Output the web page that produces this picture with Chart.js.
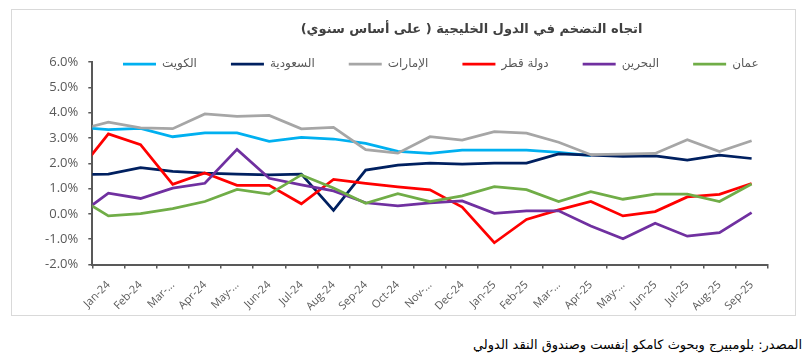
<!DOCTYPE html>
<html>
<head>
<meta charset="utf-8">
<script src="https://cdn.jsdelivr.net/npm/chart.js@4.4.1/dist/chart.umd.min.js"></script>
<style>
  html, body { margin: 0; padding: 0; background: #ffffff; width: 809px; height: 356px; overflow: hidden; }
  #box { position: absolute; left: 11px; top: 9px; width: 785px; height: 307px; border: 1px solid #d9d9d9; box-sizing: border-box; }
  #chart { position: absolute; left: 12px; top: 10px; }
  #source { position: absolute; right: 7px; top: 337px; font-family: "DejaVu Sans", sans-serif; font-size: 13px; color: #000; direction: rtl; white-space: nowrap; }
</style>
</head>
<body>
<div id="box"></div>
<canvas id="chart" width="783" height="305"></canvas>
<div id="source">المصدر: بلومبيرج وبحوث كامكو إنفست وصندوق النقد الدولي</div>
<script>
// Month labels shown on the axis (Jan-24 .. Sep-25)
const categories = ['Jan-24','Feb-24','Mar-...','Apr-24','May-...','Jun-24','Jul-24','Aug-24','Sep-24','Oct-24','Nov-...','Dec-24',
                    'Jan-25','Feb-25','Mar-...','Apr-25','May-...','Jun-25','Jul-25','Aug-25','Sep-25'];
// Each series starts with the preceding month (Dec-23), which lies just outside the axis
const kuwait  = [3.43, 3.33, 3.38, 3.05, 3.20, 3.20, 2.87, 3.02, 2.96, 2.79, 2.47, 2.39, 2.52, 2.52, 2.52, 2.43, 2.30, null, null, null, null, null];
const saudi   = [1.55, 1.57, 1.83, 1.68, 1.61, 1.57, 1.54, 1.57, 0.14, 1.73, 1.93, 2.01, 1.97, 2.01, 2.01, 2.37, 2.32, 2.27, 2.29, 2.13, 2.32, 2.19];
const uae     = [3.29, 3.63, 3.40, 3.37, 3.95, 3.85, 3.89, 3.36, 3.42, 2.54, 2.40, 3.05, 2.92, 3.25, 3.19, 2.83, 2.34, 2.36, 2.39, 2.93, 2.46, 2.89];
const qatar   = [1.56, 3.16, 2.74, 1.17, 1.62, 1.13, 1.13, 0.40, 1.36, 1.21, 1.07, 0.95, 0.27, -1.14, -0.22, 0.16, 0.49, -0.08, 0.09, 0.67, 0.77, 1.20];
const bahrain = [-0.12, 0.82, 0.61, 1.02, 1.21, 2.55, 1.41, 1.15, 0.91, 0.44, 0.32, 0.44, 0.51, 0.02, 0.12, 0.12, -0.48, -0.98, -0.37, -0.88, -0.74, 0.05];
const oman    = [0.70, -0.08, 0.01, 0.21, 0.49, 0.97, 0.78, 1.54, 1.02, 0.42, 0.80, 0.49, 0.71, 1.08, 0.96, 0.49, 0.88, 0.58, 0.78, 0.78, 0.49, 1.18];
const seriesNames = ['الكويت', 'السعودية', 'الإمارات', 'دولة قطر', 'البحرين', 'عمان'];
const seriesColors = ['#00B0F0', '#002060', '#A6A6A6', '#FF0000', '#7030A0', '#70AD47'];
const yTicks = [-2, -1, 0, 1, 2, 3, 4, 5, 6];
const titleText = 'اتجاه التضخم في الدول الخليجية ( على أساس سنوي)';

const allSeries = [kuwait, saudi, uae, qatar, bahrain, oman];
const toPoints = arr => arr.map((v, i) => ({ x: i - 1, y: v }));

const datasets = allSeries.map((arr, k) => ({
  label: seriesNames[k],
  data: toPoints(arr),
  borderColor: seriesColors[k],
  backgroundColor: seriesColors[k],
  borderWidth: 2.75,
  pointRadius: 0,
  tension: 0,
  fill: false,
  spanGaps: false,
  clip: 0,
  order: allSeries.length - k
}));

const layoutPlugin = {
  id: 'layoutTweaks',
  afterInit(chart) {
    const lg = chart.legend;
    if (lg && !lg._patched) {
      const orig = lg.fit.bind(lg);
      lg.fit = function () { orig(); this.height = 0; };
      lg._patched = true;
    }
  },
  afterLayout(chart) {
    const ca = chart.chartArea;
    const t = chart.titleBlock;
    if (t) { t.left = 136; t.right = chart.width; }
    const lg = chart.legend;
    if (lg) {
      const pad = lg.options.labels.padding;
      const fs = 12;
      lg.top = ca.top - pad - fs / 2 + 2;
      lg.bottom = ca.top + 22;
      lg.left = 111 - pad;
      lg.right = chart.width;
    }
  }
};

new Chart(document.getElementById('chart'), {
  type: 'line',
  data: { datasets },
  plugins: [layoutPlugin],
  options: {
    responsive: false,
    animation: false,
    devicePixelRatio: 1,
    layout: { padding: { left: 0, right: 27.3, top: 0, bottom: 0 } },
    plugins: {
      tooltip: { enabled: false },
      title: {
        display: true,
        text: titleText,
        color: '#404040',
        font: { family: 'DejaVu Sans', size: 13, weight: 'bold' },
        padding: { top: 11.6, bottom: 24.9 }
      },
      legend: {
        display: true,
        position: 'top',
        align: 'start',
        labels: {
          usePointStyle: true,
          pointStyle: 'line',
          pointStyleWidth: 33,
          boxHeight: 12,
          padding: 34,
          color: '#595959',
          font: { family: 'DejaVu Sans', size: 12 },
          sort: (a, b) => a.datasetIndex - b.datasetIndex
        }
      }
    },
    scales: {
      x: {
        type: 'linear',
        min: -0.5,
        max: 20.5,
        afterBuildTicks: axis => { axis.ticks = categories.map((c, i) => ({ value: i })); },
        afterFit: axis => { axis.height = 50.5; },
        ticks: {
          autoSkip: false,
          minRotation: 45,
          maxRotation: 45,
          padding: 10,
          color: '#595959',
          font: { family: 'Open Sans', size: 11 },
          callback: v => categories[v]
        },
        grid: { offset: true, drawOnChartArea: false, drawTicks: true, tickLength: 4, color: '#595959', lineWidth: 1.5 },
        border: { display: true, color: '#595959', width: 2 }
      },
      y: {
        type: 'linear',
        min: -2,
        max: 6,
        afterBuildTicks: axis => { axis.ticks = yTicks.map(v => ({ value: v })); },
        afterFit: axis => { axis.width = 80.3; },
        ticks: {
          padding: 10,
          color: '#595959',
          font: { family: 'Open Sans', size: 13 },
          callback: v => v.toFixed(1) + '%'
        },
        grid: { drawOnChartArea: false, drawTicks: true, tickLength: 4, color: '#595959', lineWidth: 1.5 },
        border: { display: true, color: '#595959', width: 2 }
      }
    }
  }
});
</script>
</body>
</html>
